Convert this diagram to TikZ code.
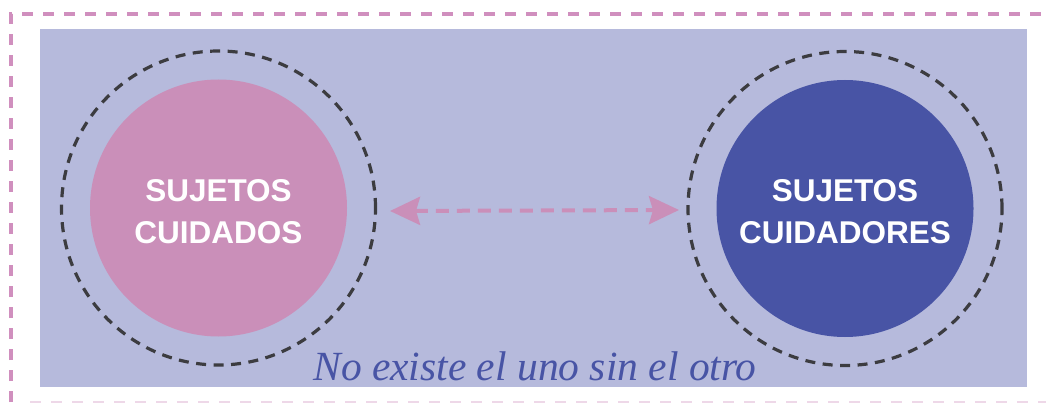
\documentclass[tikz,border=0pt]{standalone}
\usepackage{fontspec}
\setmainfont{Liberation Serif}
\setsansfont{Liberation Sans}
\usetikzlibrary{arrows.meta}
\definecolor{bglav}{HTML}{B6BADC}
\definecolor{pinkc}{HTML}{CA8FB9}
\definecolor{bluec}{HTML}{4854A5}
\definecolor{dashgray}{HTML}{3C3C40}
\definecolor{framepink}{HTML}{D08FBE}
\tikzset{
  ring/.style={circle, draw=dashgray, line width=3.2pt, dash pattern=on 10pt off 7.5pt, minimum size=314pt, inner sep=0pt},
  disc/.style={circle, minimum size=257pt, inner sep=0pt},
  lbl/.style={text=white, font=\sffamily\bfseries\fontsize{31.5}{42}\selectfont, align=center},
  link/.style={draw=pinkc, line width=4pt, dash pattern=on 13pt off 8pt, {Stealth[length=30pt,width=28pt,inset=4pt]}-{Stealth[length=30pt,width=28pt,inset=4pt]}}
}
\begin{document}
\begin{tikzpicture}[x=1pt,y=-1pt]
\useasboundingbox (0,0) rectangle (1046,403);
\begin{scope}
\clip (0,0) rectangle (1046,403);
\draw[framepink, line width=4pt, dash pattern=on 11pt off 10pt] (11,402) -- (11,14) -- (1060,14);
\draw[framepink!35, line width=3pt, dash pattern=on 11pt off 10pt] (30,402) -- (1046,402);
\end{scope}
\fill[bglav] (40,29) rectangle (1027,387);
\node[disc, fill=pinkc] (cuidados) at (218.5,208) {};
\node[lbl] (tL) at (218.5,212) {SUJETOS\\CUIDADOS};
\node[ring] (ringL) at (218.5,208) {};
\node[disc, fill=bluec] (cuidadores) at (845,208.5) {};
\node[lbl] (tR) at (845,212) {SUJETOS\\CUIDADORES};
\node[ring] (ringR) at (845,208.5) {};
\coordinate (aL) at (390,211);
\coordinate (aR) at (679,210);
\draw[link] (aL) -- (aR);
\node[font=\itshape\fontsize{41.5}{50}\selectfont, text=bluec, anchor=base] (lema) at (535,380) {No existe el uno sin el otro};
\end{tikzpicture}
\end{document}
